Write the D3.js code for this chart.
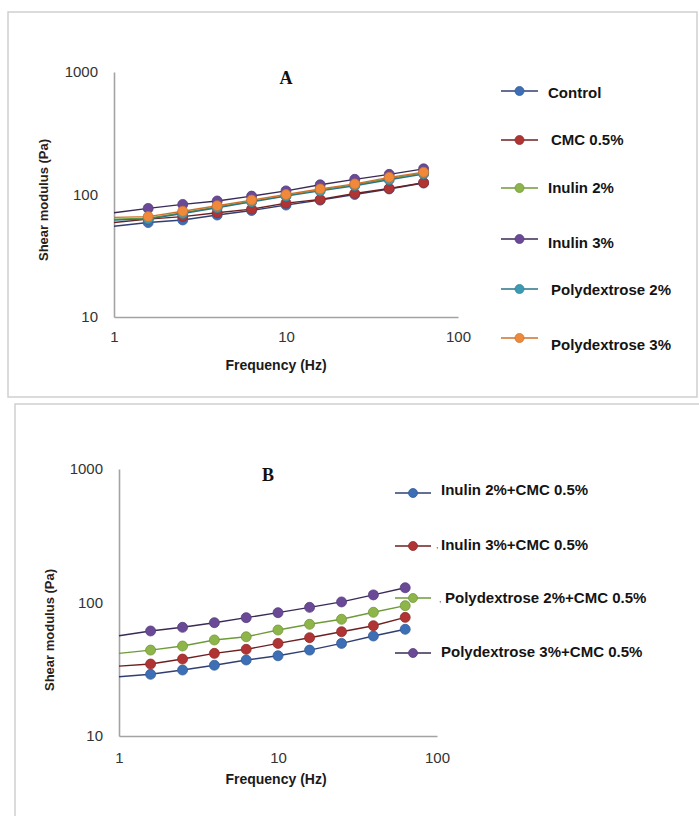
<!DOCTYPE html>
<html>
<head>
<meta charset="utf-8">
<script src="https://cdn.jsdelivr.net/npm/d3@7"></script>
<style>
  body { margin: 0; background: #fff; }
  svg { display: block; }
</style>
</head>
<body>
<div id="chart"></div>
<script>
// frequencies of the measured points (Hz)
const freqs = [1.58, 2.51, 3.98, 6.31, 10, 15.8, 25.1, 39.8, 63.1];
const xTicks = [1, 10, 100];
const yTicks = [10, 100, 1000];

// panel A
const namesA = ["Control", "CMC 0.5%", "Inulin 2%", "Inulin 3%", "Polydextrose 2%", "Polydextrose 3%"];
const startA = [55, 59, 63, 71, 62, 65];   // where each line meets the 1 Hz axis
const control = [59, 62, 68, 74, 82, 90, 100, 111, 124];
const cmc = [63, 66, 71, 76, 85, 91, 102, 112, 125];
const inulin2 = [64, 71, 79, 88, 98, 109, 120, 135, 150];
const inulin3 = [77, 83, 88.5, 97, 107, 120, 133, 146, 162];
const polydex2 = [63, 70, 78, 87, 97, 107, 118, 132, 147];
const polydex3 = [66, 73, 81, 90, 100, 111, 122, 138, 152];

// panel B
const namesB = ["Inulin 2%+CMC 0.5%", "Inulin 3%+CMC 0.5%", "Polydextrose 2%+CMC 0.5%", "Polydextrose 3%+CMC 0.5%"];
const startB = [27.8, 33.4, 41.6, 56.4];
const inulin2Cmc = [29, 31.2, 33.9, 37.1, 39.9, 44, 49.4, 56.1, 63];
const inulin3Cmc = [34.6, 37.7, 41.6, 44.6, 49.4, 54.5, 60.4, 67, 77.4];
const polydex2Cmc = [44, 47.2, 52.4, 55.4, 62.2, 68.7, 74.9, 84.5, 94.7];
const polydex3Cmc = [61.2, 65.2, 70.6, 77, 83.9, 92, 101, 114, 129];

const width = 699, height = 816;

const colA = [
  { fill: '#3d6fb6', line: '#2f3f72' },
  { fill: '#b03434', line: '#6e1f1f' },
  { fill: '#8db54a', line: '#6f9a38' },
  { fill: '#6a4a96', line: '#3a2a56' },
  { fill: '#3b9bb5', line: '#2a7488' },
  { fill: '#f08a3a', line: '#d0702a' }
];
const colB = [colA[0], colA[1], colA[2], colA[3]];

const svg = d3.select('#chart').append('svg')
  .attr('width', width)
  .attr('height', height);

// panel frames
svg.append('rect').attr('x', 8).attr('y', 12).attr('width', 689).attr('height', 385)
  .attr('fill', 'none').attr('stroke', '#cfcfcf').attr('stroke-width', 1.5);
svg.append('rect').attr('x', 15).attr('y', 404).attr('width', 700).attr('height', 430)
  .attr('fill', 'none').attr('stroke', '#cfcfcf').attr('stroke-width', 1.5);

function drawPanel(o) {
  const g = svg.append('g');
  const x = d3.scaleLog().domain([1, 100]).range([o.x0, o.x1]);
  const y = d3.scaleLog().domain([10, 1000]).range([o.y1, o.y0]);

  const yAxis = g.append('g')
    .attr('transform', 'translate(' + o.x0 + ',0)')
    .call(d3.axisLeft(y).tickValues(yTicks).tickFormat(d3.format('d')).tickSize(0).tickPadding(16));
  const xAxis = g.append('g')
    .attr('transform', 'translate(0,' + o.y1 + ')')
    .call(d3.axisBottom(x).tickValues(xTicks).tickFormat(d3.format('d')).tickSize(0).tickPadding(o.xPad));

  [xAxis, yAxis].forEach(function (a) {
    a.select('.domain').attr('stroke', '#a3a3a3').attr('stroke-width', 1.6);
    a.selectAll('text')
      .style('font-family', 'Liberation Sans Narrow, Liberation Sans, sans-serif')
      .style('font-size', '15px')
      .attr('fill', '#333');
  });

  const line = d3.line().x(d => x(d[0])).y(d => y(d[1]));

  o.values.forEach(function (vals, i) {
    const pts = [[1, o.start[i]]].concat(freqs.map((f, j) => [f, vals[j]]));
    g.append('path')
      .datum(pts)
      .attr('d', line)
      .attr('fill', 'none')
      .attr('stroke', o.colors[i].line)
      .attr('stroke-width', 1.4);
    g.selectAll(null)
      .data(freqs.map((f, j) => [f, vals[j]]))
      .enter().append('circle')
      .attr('cx', d => x(d[0]))
      .attr('cy', d => y(d[1]))
      .attr('r', 5)
      .attr('fill', o.colors[i].fill)
      .attr('stroke', d3.color(o.colors[i].fill).darker(0.5))
      .attr('stroke-width', 0.8);
  });

  // panel letter
  g.append('text')
    .attr('x', o.letterX).attr('y', o.letterY)
    .attr('text-anchor', 'middle')
    .style('font-family', 'Liberation Serif, serif')
    .style('font-weight', 'bold')
    .style('font-size', '18px')
    .attr('fill', '#111')
    .text(o.letter);

  g.append('text')
    .attr('x', 276).attr('y', o.xTitleY)
    .attr('text-anchor', 'middle')
    .style('font-family', 'Liberation Sans Narrow, Liberation Sans, sans-serif')
    .style('font-weight', 'bold')
    .style('font-size', '14px')
    .attr('fill', '#1a1a1a')
    .text('Frequency (Hz)');

  g.append('text')
    .attr('transform', 'translate(' + o.yTitleX + ',' + o.yTitleY + ') rotate(-90)')
    .attr('text-anchor', 'middle')
    .style('font-family', 'Liberation Sans, sans-serif')
    .style('font-weight', 'bold')
    .style('font-size', '13px')
    .attr('fill', '#2a2018')
    .text('Shear modulus (Pa)');

  // legend
  const leg = g.append('g');
  o.names.forEach(function (name, i) {
    const ly = o.legY[i];
    leg.append('line')
      .attr('x1', o.legX0).attr('x2', o.legX1)
      .attr('y1', ly).attr('y2', ly)
      .attr('stroke', o.colors[i].line).attr('stroke-width', 1.4);
    leg.append('circle')
      .attr('cx', (o.legX0 + o.legX1) / 2).attr('cy', ly).attr('r', 4.5)
      .attr('fill', o.colors[i].fill)
      .attr('stroke', d3.color(o.colors[i].fill).darker(0.5))
      .attr('stroke-width', 0.8);
    leg.append('text')
      .attr('x', o.legTextX[i]).attr('y', ly + o.legDy[i])
      .attr('dy', '0.35em')
      .style('font-family', 'Liberation Sans Narrow, Liberation Sans, sans-serif')
      .style('font-weight', 'bold')
      .style('font-size', '15px')
      .attr('fill', '#141414')
      .text(name);
  });
  return leg;
}

drawPanel({
  x0: 114, x1: 458, y0: 72, y1: 317, xPad: 14,
  values: [control, cmc, inulin2, inulin3, polydex2, polydex3],
  start: startA, names: namesA, colors: colA,
  letter: 'A', letterX: 286, letterY: 84,
  xTitleY: 370, yTitleX: 48, yTitleY: 200,
  legX0: 501, legX1: 538,
  legY: [91, 140, 188, 239, 289, 338],
  legTextX: [548, 551, 548, 548, 551, 551],
  legDy: [2, 0, 0, 4, 1, 7]
});

const legB = drawPanel({
  x0: 119, x1: 437, y0: 469, y1: 736, xPad: 16,
  values: [inulin2Cmc, inulin3Cmc, polydex2Cmc, polydex3Cmc],
  start: startB, names: namesB, colors: colB,
  letter: 'B', letterX: 268, letterY: 481,
  xTitleY: 784, yTitleX: 54, yTitleY: 630,
  legX0: 395, legX1: 431,
  legY: [493, 546, 598, 653],
  legTextX: [441, 441, 445, 441],
  legDy: [-3, -1, 0, -1]
});

// stray marks in front of two legend labels in the original
[[436, 548], [439, 602]].forEach(function (p) {
  legB.append('text')
    .attr('x', p[0]).attr('y', p[1])
    .style('font-family', 'Liberation Sans, sans-serif')
    .style('font-size', '9px')
    .attr('fill', '#555')
    .text(',');
});
</script>
</body>
</html>
